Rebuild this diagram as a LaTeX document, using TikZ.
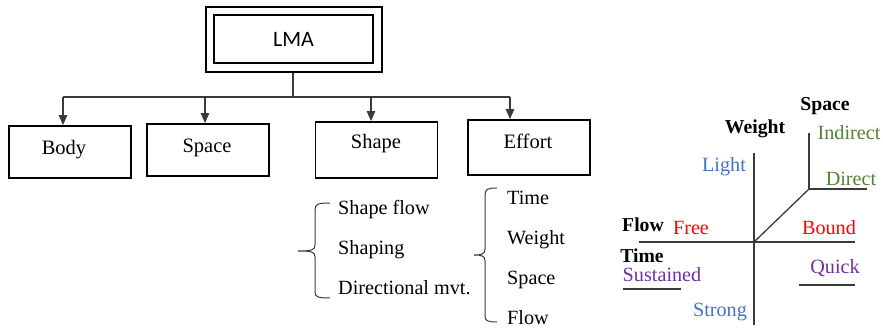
\documentclass[tikz,border=0pt]{standalone}
\usepackage{fontspec}
\setmainfont{Liberation Serif}
\newfontfamily\calib{Carlito}
\usetikzlibrary{arrows.meta}
\definecolor{cgreen}{HTML}{548235}
\definecolor{cblue}{HTML}{4472C4}
\definecolor{cpurple}{HTML}{7030A0}
\definecolor{cline}{HTML}{3A3A3A}
\begin{document}
\begin{tikzpicture}[x=1pt,y=-1pt,
  box/.style={draw=black,line width=1.8pt,minimum width=122pt,minimum height=52pt,inner sep=0pt},
  lbl/.style={inner sep=0pt,font=\fontsize{20.5}{23}\selectfont},
  item/.style={inner sep=0pt,anchor=west,text height=13pt,text depth=0pt,font=\fontsize{20.2}{23}\selectfont},
  bold/.style={inner sep=0pt,font=\fontsize{19.7}{22}\selectfont\bfseries},
  col/.style={inner sep=0pt,font=\fontsize{20.2}{23}\selectfont},
  conn/.style={draw=cline,line width=1.2pt},
  arr/.style={conn,-{Triangle[width=8.5pt,length=10pt]}},
  axis/.style={draw=cline,line width=1.3pt},
  brace/.style={draw=cline,line width=1pt}]
\useasboundingbox (0,0) rectangle (883,329);

% LMA double box
\node[draw=black,line width=1.8pt,minimum width=176pt,minimum height=65pt,inner sep=0pt] (lmaout) at (294,39.5) {};
\node[draw=black,line width=2.6pt,minimum width=159pt,minimum height=48pt,inner sep=0pt,font=\calib\fontsize{22}{24}\selectfont] (lma) at (293.5,39) {LMA};

% boxes
\node[box] (body) at (70,152) {};
\node[lbl] (bodyt) at (64,150) {Body};
\node[box] (space) at (208,150) {};
\node[lbl] (spacet) at (207,148) {Space};
\node[box,minimum height=56pt] (shape) at (376.5,150) {};
\node[lbl] (shapet) at (376,144) {Shape};
\node[box,minimum height=55pt] (effort) at (529,147.5) {};
\node[lbl] (effortt) at (528,141) {Effort};

% bus
\coordinate (bus) at (293,97);
\coordinate (b1) at (63,97);
\coordinate (b2) at (205,97);
\coordinate (b3) at (371,97);
\coordinate (b4) at (510,97);
\draw[conn] (lmaout.south -| bus) -- (bus);
\draw[conn] (b1) -- (b4);
\draw[arr] (b1) -- (b1 |- body.north);
\draw[arr] (b2) -- (b2 |- space.north);
\draw[arr] (b3) -- (b3 |- shape.north);
\draw[arr] (b4) -- (b4 |- effort.north);

% shape list
\node[item] (sf) at (338,208) {Shape flow};
\node[item] (sh) at (338,248) {Shaping};
\node[item] (dm) at (338,288) {Directional mvt.};
\draw[brace] (330,203) .. controls (318,203) and (315,204) .. (315,210) -- (315,245)
  .. controls (315,250) and (312,251) .. (298,251)
  .. controls (312,251) and (315,252) .. (315,257) -- (315,292)
  .. controls (315,297) and (318,298) .. (330,298);

% effort list
\node[item] (ti) at (507,198) {Time};
\node[item] (we) at (507,238) {Weight};
\node[item] (sp) at (507,278) {Space};
\node[item] (fl) at (507,318) {Flow};
\draw[brace] (497,188) .. controls (488,188) and (485,189) .. (485,195) -- (485,249)
  .. controls (485,254) and (482,255) .. (474,255)
  .. controls (482,255) and (485,256) .. (485,261) -- (485,316)
  .. controls (485,321) and (488,322) .. (497,322);

% effort axes
\coordinate (o) at (754,242);
\coordinate (d) at (809,189);
\draw[axis] (754,153) -- (754,325);
\draw[axis] (639,242) -- (855,242);
\draw[axis] (o) -- (d);
\draw[axis] (d) -- (809,133);
\draw[axis] (d) -- (867,189);
\draw[axis] (623,289) -- (681,289);
\draw[axis] (799,285) -- (855,285);

\node[bold] (lsp) at (825,106) {Space};
\node[bold] (lwe) at (755,129) {Weight};
\node[bold] (lfl) at (643,225) {Flow};
\node[bold] (lti) at (642,256) {Time};
\node[col,text=cgreen] (lind) at (849,133) {Indirect};
\node[col,text=cgreen] (ldir) at (851,179) {Direct};
\node[col,text=cblue] (lli) at (724,167) {Light};
\node[col,text=cblue] (lst) at (720,312) {Strong};
\node[col,text=red] (lfr) at (691,228) {Free};
\node[col,text=red] (lbo) at (829,228) {Bound};
\node[col,text=cpurple] (lsu) at (662,275) {Sustained};
\node[col,text=cpurple] (lqu) at (835,268) {Quick};
\end{tikzpicture}
\end{document}
